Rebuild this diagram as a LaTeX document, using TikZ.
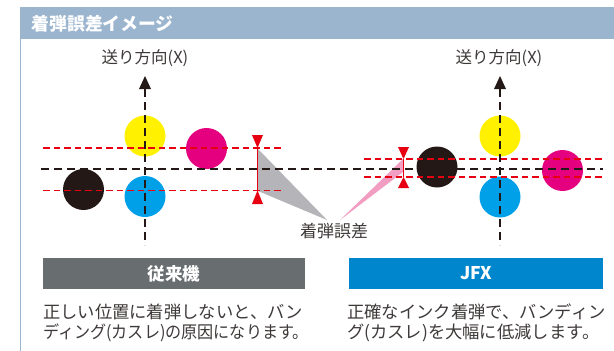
\documentclass[tikz,border=0pt]{standalone}
\usepackage{fontspec}
\newfontfamily\jp{Noto Sans CJK JP}
\usetikzlibrary{calc}
\definecolor{hdr}{HTML}{9BB5CF}
\definecolor{ylw}{HTML}{FFF100}
\definecolor{mgt}{HTML}{E4007F}
\definecolor{cyn}{HTML}{00A0E9}
\definecolor{blk}{HTML}{231815}
\definecolor{errred}{HTML}{E60012}
\definecolor{errgray}{HTML}{B5B5B9}
\definecolor{errpink}{HTML}{F19EC2}
\definecolor{barg}{HTML}{686D70}
\definecolor{barb}{HTML}{0086CD}
\definecolor{txt}{HTML}{3E3A39}
\tikzset{
  dot/.style={circle, minimum size=41pt, inner sep=0pt, draw=none},
  blkdash/.style={draw=blk, line width=1.3pt, dash pattern=on 8pt off 5pt},
  reddash/.style={draw=errred, line width=1.2pt, dash pattern=on 6.5pt off 4pt},
  lbl/.style={font=\jp\fontsize{16.5}{19}\selectfont, text=txt, inner sep=0pt},
  body/.style={font=\jp\fontsize{17.3}{20}\selectfont, text=txt, inner sep=0pt, anchor=west},
  bar/.style={minimum height=31pt, inner sep=0pt, text=white, font=\jp\bfseries\fontsize{17.5}{20}\selectfont},
}
\begin{document}
\begin{tikzpicture}[x=1pt,y=-1pt]
\useasboundingbox (0,0) rectangle (614,351);
\fill[white] (0,0) rectangle (614,351);
% frame
\fill[hdr] (20,7) rectangle (614,39);
\draw[hdr, line width=1pt] (20.5,39) -- (20.5,351);
\node[anchor=west, text=white, inner sep=0pt, font=\jp\bfseries\fontsize{17.8}{20}\selectfont] (title) at (31.5,23.5) {着弾誤差イメージ};

% error pointers
\fill[errgray] (258,149) -- (258,191) -- (327,220) -- cycle;
\fill[errpink] (403,159) -- (403,172) -- (340,220) -- cycle;

% circles left
\node[dot, fill=ylw] (ly) at (145,136) {};
\node[dot, fill=mgt] (lm) at (206.5,148.5) {};
\node[dot, fill=blk] (lk) at (83.5,189.5) {};
\node[dot, fill=cyn] (lc) at (145,196.5) {};
% circles right
\node[dot, fill=ylw] (ry) at (500,136) {};
\node[dot, fill=cyn] (rc) at (500,197) {};
\node[dot, fill=blk] (rk) at (437,167) {};
\node[dot, fill=mgt] (rm) at (562.5,170.5) {};

% red dashed lines
\draw[reddash] (43,148) -- (283,148);
\draw[reddash] (43,190.5) -- (283,190.5);
\draw[reddash] (364,159) -- (603,159);
\draw[reddash] (364,177) -- (603,177);

% black dashed horizontal
\draw[blkdash] (41,169) -- (603,169);

% axes
\coordinate (la) at (145,76);
\coordinate (lb) at (145,245);
\coordinate (ra) at (500,76);
\coordinate (rb) at (500,245);
\draw[blkdash] ($(la)+(0,13)$) -- (lb);
\draw[blkdash] ($(ra)+(0,13)$) -- (rb);
\fill[blk] (la) -- ++(-6,13) -- ++(12,0) -- cycle;
\fill[blk] (ra) -- ++(-6,13) -- ++(12,0) -- cycle;
\node[lbl] (lx) at (145,58) {送り方向(X)};
\node[lbl] (rx) at (499,58) {送り方向(X)};

% red markers
\draw[errred, line width=1.2pt] (257.5,148) -- (257.5,190.5);
\fill[errred] (252,135) -- (263,135) -- (257.5,148) -- cycle;
\fill[errred] (252,204) -- (263,204) -- (257.5,190.5) -- cycle;
\draw[errred, line width=1.2pt] (403.5,159) -- (403.5,177);
\fill[errred] (398,147) -- (409,147) -- (403.5,159) -- cycle;
\fill[errred] (398,188) -- (409,188) -- (403.5,177) -- cycle;

\node[lbl, font=\jp\fontsize{17}{19}\selectfont] (err) at (334,231) {着弾誤差};

% bars
\node[bar, fill=barg, minimum width=262pt] (b1) at (174,273.5) {従来機};
\node[bar, fill=barb, minimum width=254pt] (b2) at (476,273.5) {JFX};

% body text
\node[body] (t1) at (43,311.5) {正しい位置に着弾しないと、バン};
\node[body] (t2) at (43,333) {\scalebox{0.93}[1]{ディング(カスレ)の原因になります。}};
\node[body] (t3) at (347,311.5) {正確なインク着弾で、バンディン};
\node[body] (t4) at (347,333) {グ(カスレ)を大幅に低減します。};
\end{tikzpicture}
\end{document}
